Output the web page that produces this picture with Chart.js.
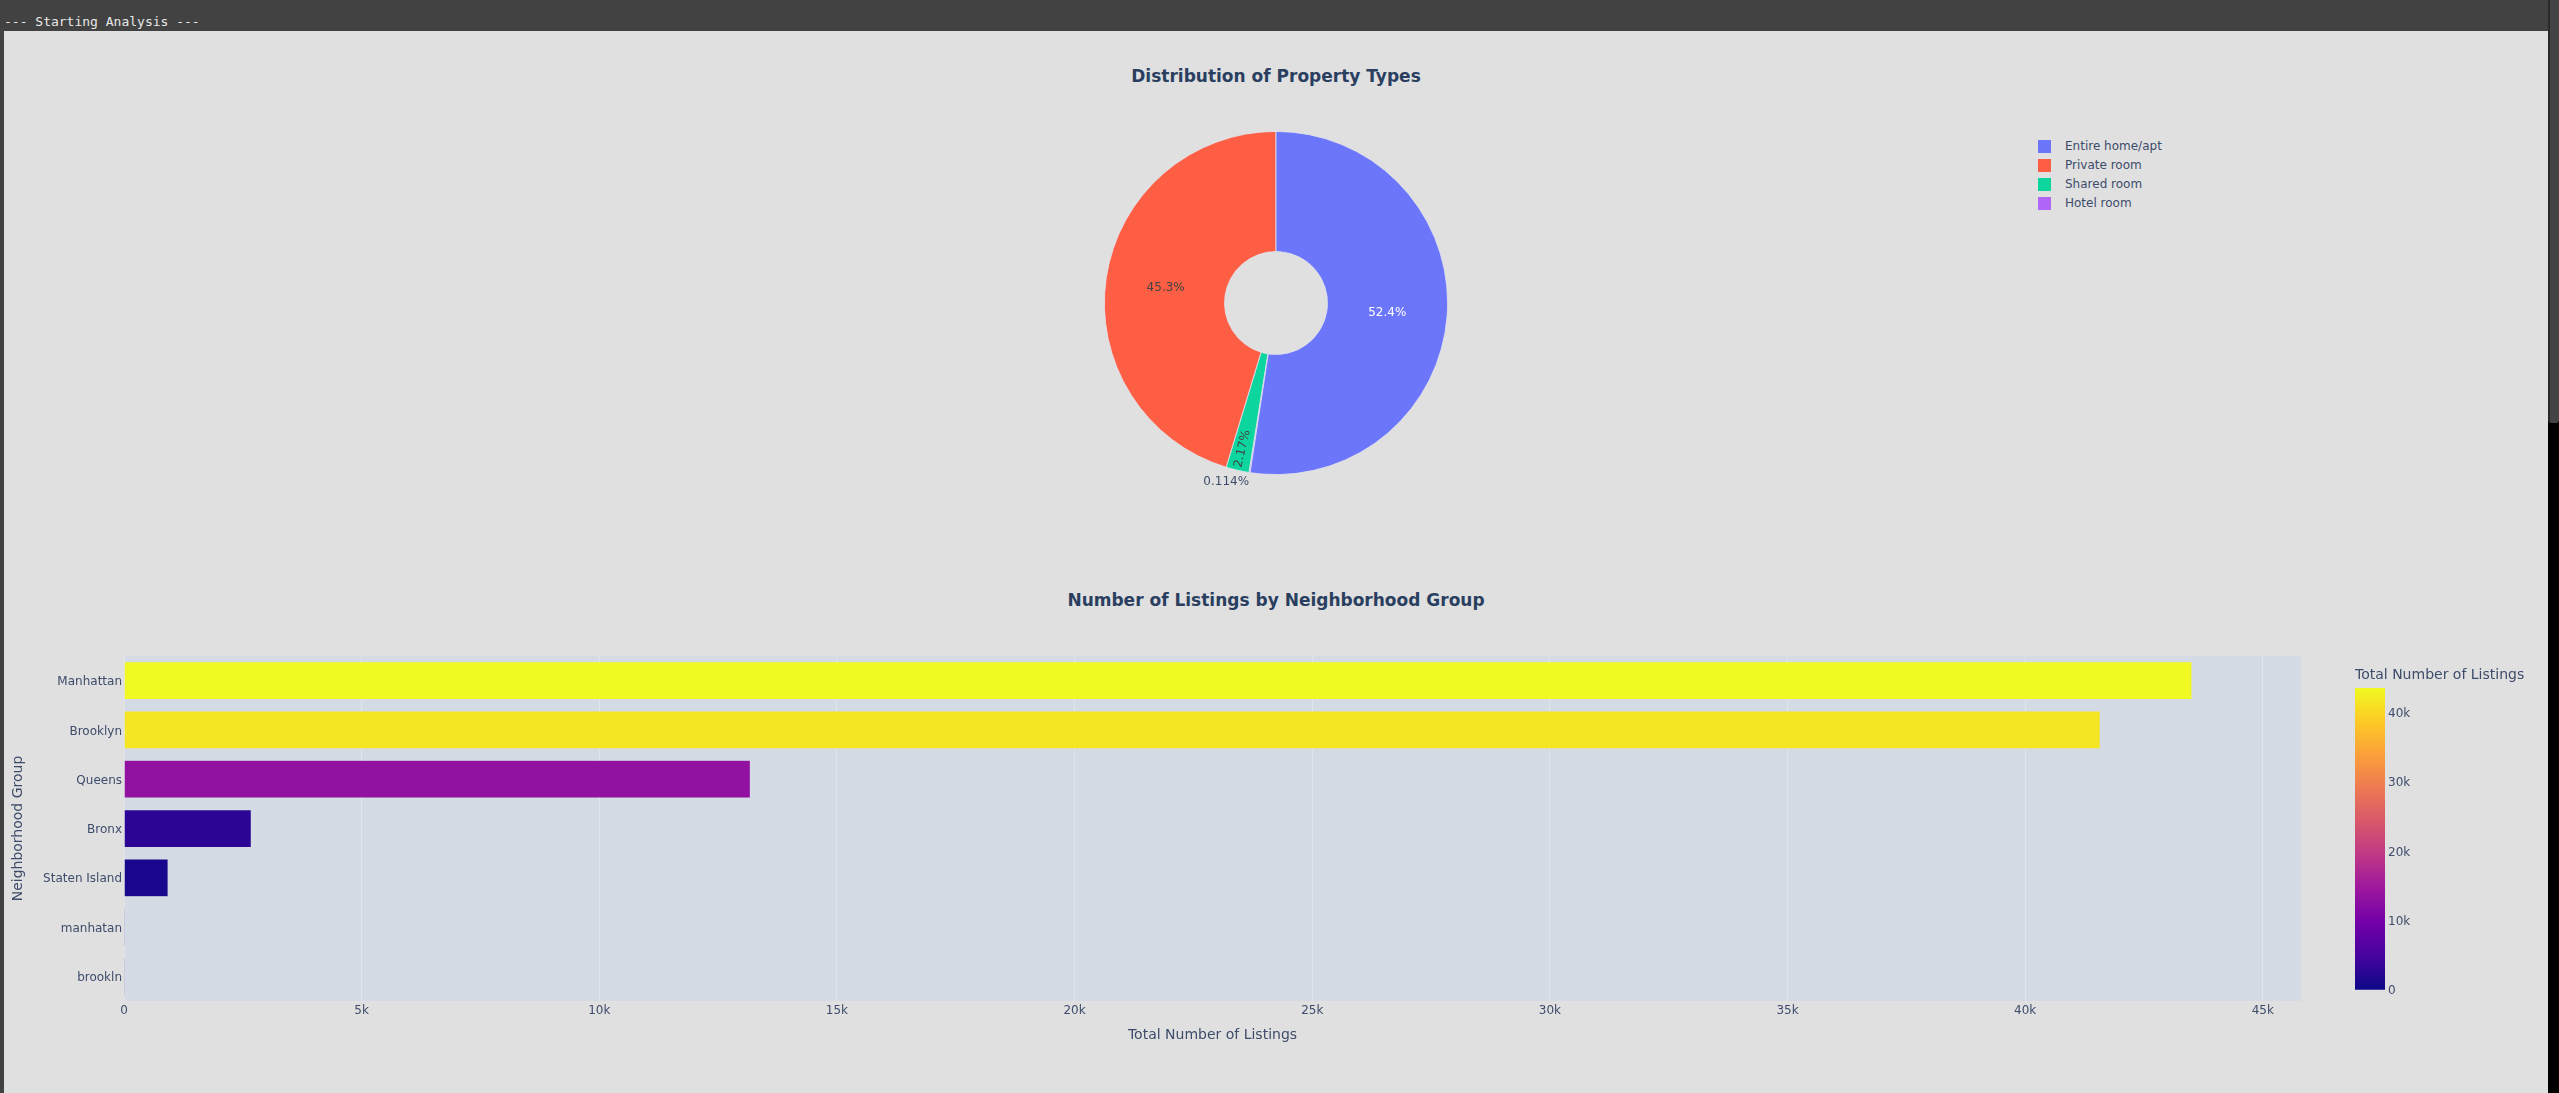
<!DOCTYPE html>
<html>
<head>
<meta charset="utf-8">
<script src="https://cdn.jsdelivr.net/npm/chart.js@4.4.0/dist/chart.umd.min.js"></script>
<style>
html,body{margin:0;padding:0;width:2559px;height:1093px;overflow:hidden;background:#424242;font-family:"DejaVu Sans",Verdana,sans-serif;}
#console{position:absolute;left:4px;top:13px;font:13px "DejaVu Sans Mono",monospace;color:#e8e8e8;line-height:18px;white-space:pre;}
#panel{position:absolute;left:4px;top:31px;width:2544px;height:1062px;background:#e0e0e0;}
#track{position:absolute;left:2548px;top:0;width:11px;height:1093px;background:#000;}
#thumb{position:absolute;left:2548px;top:0;width:11px;height:423px;background:#444;border-left:2px solid #2a2a2a;box-sizing:border-box;border-radius:0 0 3px 3px;}
.title{position:absolute;left:4px;width:2544px;text-align:center;font-weight:bold;font-size:17px;line-height:20px;color:#2a3f5f;}
canvas{position:absolute;}
#legend{position:absolute;left:2038px;top:137px;font-size:12px;color:#3d4c6a;}
#legend .item{height:19px;line-height:19px;position:relative;white-space:nowrap;}
#legend .sw{position:absolute;left:0;top:3px;width:13px;height:13px;}
#legend .tx{position:absolute;left:27px;top:0;}
</style>
</head>
<body>
<div id="console">--- Starting Analysis ---</div>
<div id="panel"></div>
<div id="track"></div>
<div id="thumb"></div>

<div class="title" style="top:66px;">Distribution of Property Types</div>
<canvas id="pie" width="400" height="400" style="left:1076px;top:103px;"></canvas>
<div id="legend"></div>

<div class="title" style="top:590px;">Number of Listings by Neighborhood Group</div>
<canvas id="bar" width="2544" height="453" style="left:4px;top:640px;"></canvas>
<canvas id="cbar" width="200" height="340" style="left:2355px;top:660px;"></canvas>

<script>
// ---------- DATA ----------
const roomTypes = ['Entire home/apt', 'Private room', 'Shared room', 'Hotel room'];
const roomShares = [52.4, 45.3, 2.17, 0.114];
const roomColors = ['#6c76fb', '#fd5e44', '#0cd69e', '#b067f8'];

const groups = ['Manhattan', 'Brooklyn', 'Queens', 'Bronx', 'Staten Island', 'manhatan', 'brookln'];
const listings = [43510, 41580, 13180, 2680, 930, 1, 1];

const xTickStep = 5000;
const colorbarTickStep = 10000;

// Plasma colorscale
const plasmaStops = [
  [0, '#0d0887'], [0.1111, '#46039f'], [0.2222, '#7201a8'], [0.3333, '#9c179e'],
  [0.4444, '#bd3786'], [0.5556, '#d8576b'], [0.6667, '#ed7953'], [0.7778, '#fb9f3a'],
  [0.8889, '#fdca26'], [1, '#f0f921']
];
function hex2rgb(h){return [parseInt(h.slice(1,3),16),parseInt(h.slice(3,5),16),parseInt(h.slice(5,7),16)];}
function plasma(t){
  t=Math.max(0,Math.min(1,t));
  for(let i=1;i<plasmaStops.length;i++){
    if(t<=plasmaStops[i][0]){
      const [t0,c0]=plasmaStops[i-1],[t1,c1]=plasmaStops[i];
      const f=(t-t0)/(t1-t0); const a=hex2rgb(c0), b=hex2rgb(c1);
      return 'rgb('+a.map((v,k)=>Math.round(v+(b[k]-v)*f)).join(',')+')';
    }
  }
  return plasmaStops[plasmaStops.length-1][1];
}
function kfmt(v){return v===0?'0':(v/1000)+'k';}
function stepTicks(step){
  return function(s){ const t=[]; for(let v=s.min; v<=s.max+1e-9; v+=step) t.push({value:v}); s.ticks=t; };
}

Chart.defaults.font.family = '"DejaVu Sans", Verdana, sans-serif';
Chart.defaults.font.size = 12;
Chart.defaults.color = '#3d4c6a';

// ---------- LEGEND (HTML) ----------
const legendEl = document.getElementById('legend');
roomTypes.forEach((t,i)=>{
  const d=document.createElement('div'); d.className='item';
  d.innerHTML='<span class="sw" style="background:'+roomColors[i]+'"></span><span class="tx">'+t+'</span>';
  legendEl.appendChild(d);
});

// ---------- PIE ----------
const totalShare = roomShares.reduce((a,b)=>a+b,0);
// Plotly draws slices counter-clockwise; emulate by reversing order and rotating
const pieLabels = roomTypes.slice().reverse();
const pieData = roomShares.slice().reverse();
const pieColors = roomColors.slice().reverse();
const pieRotation = 360 * roomShares[0] / totalShare;

function brightness(c){const [r,g,b]=hex2rgb(c);return (r*299+g*587+b*114)/1000;}

const pieLabelPlugin = {
  id:'pieLabels',
  afterDatasetsDraw(chart){
    const ctx=chart.ctx, meta=chart.getDatasetMeta(0), ds=chart.data.datasets[0];
    const total=ds.data.reduce((a,b)=>a+b,0);
    ctx.save();
    ctx.font='12px "DejaVu Sans", Verdana, sans-serif';
    meta.data.forEach((arc,i)=>{
      const p=arc.getProps(['x','y','startAngle','endAngle','innerRadius','outerRadius'],true);
      const frac=ds.data[i]/total;
      const txt=(frac*100).toPrecision(3)+'%';
      const mid=(p.startAngle+p.endAngle)/2, c=Math.cos(mid), s=Math.sin(mid);
      const w=ctx.measureText(txt).width;
      const col=ds.backgroundColor[i];
      const inside = brightness(col)>134 ? '#444444' : '#ffffff';
      if(frac>0.1){
        const r=(p.innerRadius+p.outerRadius)/2;
        ctx.fillStyle=inside; ctx.textAlign='center'; ctx.textBaseline='middle';
        ctx.fillText(txt,p.x+c*r,p.y+s*r+1);
      } else if(frac>0.01){
        const r=p.outerRadius-w/2-3;
        ctx.save(); ctx.translate(p.x+c*r,p.y+s*r); ctx.rotate(mid+Math.PI);
        ctx.fillStyle=inside; ctx.textAlign='center'; ctx.textBaseline='middle';
        ctx.fillText(txt,0,0); ctx.restore();
      } else {
        const r=p.outerRadius+3;
        ctx.fillStyle='#3d4c6a';
        ctx.textAlign=c<0?'right':'left';
        ctx.textBaseline=s>0?'top':'bottom';
        ctx.fillText(txt,p.x+c*r,p.y+s*r);
      }
    });
    ctx.restore();
  }
};

new Chart(document.getElementById('pie'),{
  type:'doughnut',
  data:{labels:pieLabels,datasets:[{data:pieData,backgroundColor:pieColors,borderColor:'#e3e3ec',borderWidth:0.8}]},
  options:{
    responsive:false, animation:false, devicePixelRatio:1,
    cutout:'30%', rotation:pieRotation,
    layout:{padding:28},
    plugins:{legend:{display:false},tooltip:{enabled:false}}
  },
  plugins:[pieLabelPlugin]
});

// ---------- BAR ----------
const maxListings = Math.max(...listings);
const barColors = listings.map(v=>plasma(v/maxListings));

const plotBgPlugin = {
  id:'plotBg',
  beforeDraw(chart){
    const a=chart.chartArea, ctx=chart.ctx;
    ctx.save(); ctx.fillStyle='#d5dbe4'; ctx.fillRect(a.left,a.top,a.right-a.left,a.bottom-a.top); ctx.restore();
  }
};

new Chart(document.getElementById('bar'),{
  type:'bar',
  data:{labels:groups,datasets:[{data:listings,backgroundColor:barColors,borderColor:'rgba(213,219,228,0.6)',borderWidth:0.6,barPercentage:0.77,categoryPercentage:1}]},
  options:{
    indexAxis:'y', responsive:false, animation:false, devicePixelRatio:1,
    layout:{padding:{top:16,right:247,bottom:42,left:0}},
    plugins:{legend:{display:false},tooltip:{enabled:false}},
    scales:{
      x:{
        min:0, max:maxListings*1.0527,
        grid:{color:'#e0e4eb',lineWidth:1,drawTicks:false},
        border:{display:false},
        ticks:{padding:3,callback:v=>kfmt(v)},
        afterBuildTicks:stepTicks(xTickStep),
        title:{display:true,text:'Total Number of Listings',font:{size:14},padding:{top:0,bottom:7}},
        afterFit(s){s.height=50;}
      },
      y:{
        grid:{display:false,drawTicks:false},
        border:{display:false},
        ticks:{padding:2,labelOffset:1.5},
        title:{display:true,text:'Neighborhood Group',font:{size:14},padding:{top:5.6,bottom:0}},
        afterFit(s){s.width=120;}
      }
    }
  },
  plugins:[plotBgPlugin]
});

// ---------- COLORBAR ----------
new Chart(document.getElementById('cbar'),{
  type:'bar',
  data:{labels:[''],datasets:[{data:[maxListings],barPercentage:1,categoryPercentage:1,borderWidth:0,
    backgroundColor(ctx){
      const a=ctx.chart.chartArea; if(!a) return plasma(1);
      const g=ctx.chart.ctx.createLinearGradient(0,a.bottom,0,a.top);
      plasmaStops.forEach(([t,c])=>g.addColorStop(t,c));
      return g;
    }}]},
  options:{
    responsive:false, animation:false, devicePixelRatio:1,
    layout:{padding:{top:0,right:0,bottom:9,left:0}},
    plugins:{
      legend:{display:false},tooltip:{enabled:false},
      title:{display:true,text:'Total Number of Listings',align:'start',font:{size:14,weight:'normal'},padding:{top:7.2,bottom:4.0}}
    },
    scales:{
      x:{display:false},
      y:{position:'right',min:0,max:maxListings,
        grid:{display:false,drawTicks:false},border:{display:false},
        ticks:{padding:3,labelOffset:1.5,callback:v=>kfmt(v)},
        afterBuildTicks:stepTicks(colorbarTickStep),
        afterFit(s){s.width=170;}
      }
    }
  }
});
</script>
</body>
</html>
